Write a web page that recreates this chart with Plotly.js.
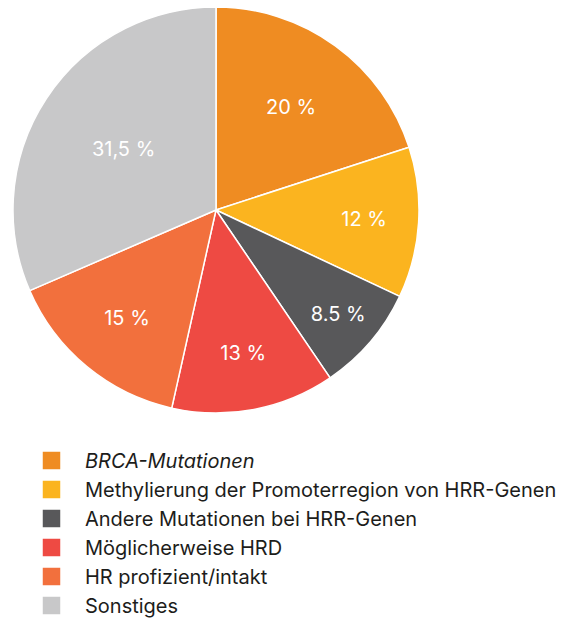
<!DOCTYPE html>
<html>
<head>
<meta charset="utf-8">
<script src="https://cdn.plot.ly/plotly-3.0.1.min.js"></script>
<style>
html,body{margin:0;padding:0;background:#fff;}
#chart{width:564px;height:619px;}
</style>
</head>
<body>
<div id="chart"></div>
<script>
const categories = [
  "<i>BRCA-Mutationen</i>",
  "Methylierung der Promoterregion von HRR-Genen",
  "Andere Mutationen bei HRR-Genen",
  "Möglicherweise HRD",
  "HR profizient/intakt",
  "Sonstiges"
];
const values = [20, 12, 8.5, 13, 15, 31.5];
const valueLabels = ["20 %", "12 %", "8.5 %", "13 %", "15 %", "31,5 %"];
const colors = ["#EF8C22", "#FBB41F", "#58585A", "#EE4A43", "#F2703D", "#C8C8C9"];

const W = 564, H = 619;
// target pixel geometry
const cx = 216, cy = 210, R = 203;
const legendLeft = 18, legendTop = 441;

const data = [{
  type: "pie",
  labels: categories,
  values: values,
  text: valueLabels,
  textinfo: "text",
  hoverinfo: "label+text",
  sort: false,
  direction: "clockwise",
  rotation: 0,
  marker: {colors: colors, line: {color: "#ffffff", width: 1.5}},
  textposition: "inside",
  insidetextorientation: "horizontal",
  textfont: {family: "Inter", size: 20, color: "#ffffff"},
  domain: {x: [0, 1], y: [0, 1]}
}];

const layout = {
  width: W, height: H,
  margin: {l: 0, r: 0, t: 0, b: 0},
  paper_bgcolor: "#ffffff",
  showlegend: true,
  font: {family: "Inter"},
  legend: {
    xref: "paper", yref: "container",
    x: legendLeft / W, xanchor: "left",
    y: 1 - legendTop / H, yanchor: "top",
    itemwidth: 57,
    font: {family: "Inter", size: 20, color: "#1d1d1b"},
    bgcolor: "rgba(0,0,0,0)",
    traceorder: "normal"
  }
};

function clamp(v) { return Math.max(0, Math.min(1, v)); }

function fixSymbols(gd) {
  gd.querySelectorAll(".legendpoints path").forEach(function (p) {
    p.setAttribute("d", "M9.5,9.5H-9.5V-9.5H9.5Z");
  });
}

(async function () {
  const gd = document.getElementById("chart");
  await Plotly.newPlot(gd, data, layout, {displayModeBar: false, staticPlot: true});
  for (let i = 0; i < 2; i++) {
    const s = gd._fullLayout._size;
    const dx = [clamp((cx - R - s.l) / s.w), clamp((cx + R - s.l) / s.w)];
    const dy = [clamp(1 - (cy + R - s.t) / s.h), clamp(1 - (cy - R - s.t) / s.h)];
    const lx = (legendLeft - s.l) / s.w;
    await Plotly.update(gd, {"domain.x": [dx], "domain.y": [dy]}, {"legend.x": lx});
  }
  fixSymbols(gd);
})();
</script>
</body>
</html>
